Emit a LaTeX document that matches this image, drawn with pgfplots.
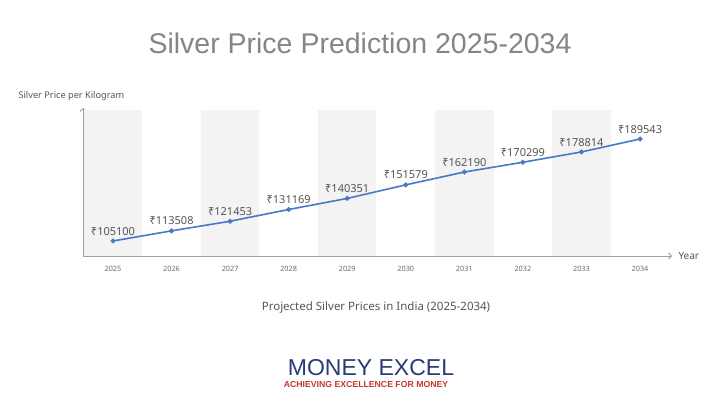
\documentclass[border=0pt]{standalone}
\usepackage{pgfplots}
\pgfplotsset{compat=1.18}
\usepackage{fontspec}
\setmainfont{Noto Sans}
\newfontfamily\arialf{Liberation Sans}
\usetikzlibrary{arrows.meta}
\definecolor{ttl}{HTML}{858585}
\definecolor{txt}{HTML}{555555}
\definecolor{tick}{HTML}{6A6A6A}
\definecolor{band}{HTML}{F3F3F3}
\definecolor{axl}{HTML}{A0A0A0}
\definecolor{line}{HTML}{4A78C8}
\definecolor{navy}{HTML}{2B3A78}
\definecolor{redl}{HTML}{C0392B}
\pgfplotstableread{
x y lab
2025 105100 ₹105100
2026 113508 ₹113508
2027 121453 ₹121453
2028 131169 ₹131169
2029 140351 ₹140351
2030 151579 ₹151579
2031 162190 ₹162190
2032 170299 ₹170299
2033 178814 ₹178814
2034 189543 ₹189543
}\prices
\begin{document}
\begin{tikzpicture}
\path (0pt,0pt) rectangle (720pt,404pt);
\node[font=\arialf\fontsize{28.5}{32}\selectfont, text=ttl] at (360pt,361pt) {Silver Price Prediction 2025-2034};
\begin{axis}[
  at={(83pt,148pt)}, anchor=south west,
  scale only axis, width=589pt, height=148pt,
  xmin=2024.488, xmax=2034.546,
  ymin=92683, ymax=215205,
  axis lines=left,
  axis line style={draw=axl, line width=0.8pt},
  x axis line style={-{Straight Barb[length=3pt,width=6pt]}},
  y axis line style={-{Straight Barb[length=3pt,width=6pt]}},
  ytick=\empty,
  xtick={2025,2026,2027,2028,2029,2030,2031,2032,2033,2034},
  xticklabels={2025,2026,2027,2028,2029,2030,2031,2032,2033,2034},
  major tick length=0pt,
  xticklabel style={font=\fontsize{7.3}{8}\selectfont\bfseries, text=tick, yshift=-7pt},
  clip=false,
]
\foreach \c in {2025,2027,2029,2031,2033}{
  \edef\tmp{\noexpand\fill[band] (axis cs:\c-0.5,92683) rectangle (axis cs:\c+0.5,213550);}
  \tmp
}
\addplot[color=line, line width=1.6pt, mark=*, mark size=1.6pt,
  nodes near coords, point meta=explicit symbolic,
  every node near coord/.append style={font=\fontsize{11}{13}\selectfont, text=txt, anchor=south, yshift=4pt, inner sep=1pt}]
  table[x=x, y=y, meta=lab] {\prices};
\end{axis}
\node[anchor=west, font=\fontsize{9.2}{11}\selectfont, text=txt] at (15pt,308pt) {Silver Price per Kilogram};
\node[anchor=west, font=\fontsize{10}{12}\selectfont, text=txt] at (675pt,148pt) {Year};
\node[font=\fontsize{11.5}{13}\selectfont, text=txt] at (376pt,96pt) {Projected Silver Prices in India (2025-2034)};
\node[font=\arialf\fontsize{23}{26}\selectfont, text=navy] at (371pt,36pt) {MONEY EXCEL};
\node[font=\arialf\fontsize{8.7}{10}\selectfont\bfseries, text=redl] at (366pt,19pt) {ACHIEVING EXCELLENCE FOR MONEY};
\end{tikzpicture}
\end{document}
